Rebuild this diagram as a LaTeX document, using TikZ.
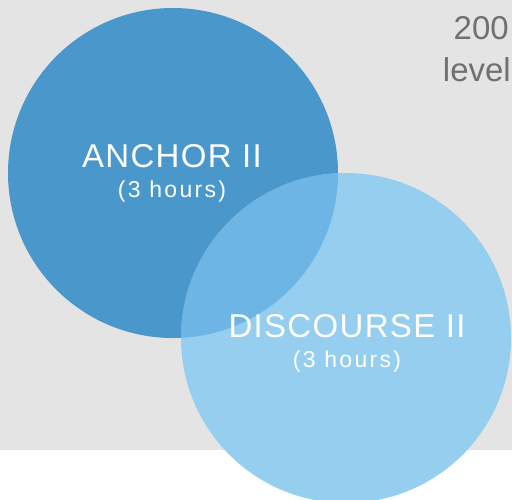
\documentclass[tikz,border=0pt]{standalone}
\usepackage{fontspec}
\setmainfont{Liberation Sans}
\newfontfamily\hoursfont[LetterSpace=10]{Liberation Sans}
\newfontfamily\namefont[LetterSpace=4]{Liberation Sans}

\definecolor{panelgray}{RGB}{228,228,228}
\definecolor{notegray}{RGB}{112,112,116}
\definecolor{anchorblue}{RGB}{74,152,203}
\definecolor{discblue}{RGB}{150,206,239}
\definecolor{overlapblue}{RGB}{109,181,228}

\begin{document}
\begin{tikzpicture}
  [x=1pt,y=-1pt,
   every node/.style={inner sep=0pt},
   course/.style={circle,minimum size=330pt},
   coursename/.style={text=white,anchor=base,font=\namefont\fontsize{33}{33}\selectfont},
   hours/.style={text=white,anchor=base,font=\hoursfont\fontsize{23}{23}\selectfont},
   note/.style={text=notegray,anchor=base east,font=\fontsize{33}{33}\selectfont}]
  \useasboundingbox (0,0) rectangle (512,499);
  \fill[panelgray] (0,0) rectangle (512,450);
  % corner note
  \node[note] (num) at (509,39) {200};
  \node[note] (lvl) at (511,81) {level};
  % the two courses
  \node[course,fill=anchorblue] (anchor) at (173,173) {};
  \node[course,fill=discblue] (discourse) at (346,338) {};
  \begin{scope}
    \clip (anchor.center) circle[radius=165pt];
    \fill[overlapblue] (discourse.center) circle[radius=165pt];
  \end{scope}
  % labels
  \node[coursename] (anchorname) at (172,167) {ANCHOR II};
  \node[hours] (anchorhours) at (172,197) {(3 hours)};
  \node[coursename] (discname) at (347,337) {DISCOURSE II};
  \node[hours] (dischours) at (347,367) {(3 hours)};
\end{tikzpicture}
\end{document}
